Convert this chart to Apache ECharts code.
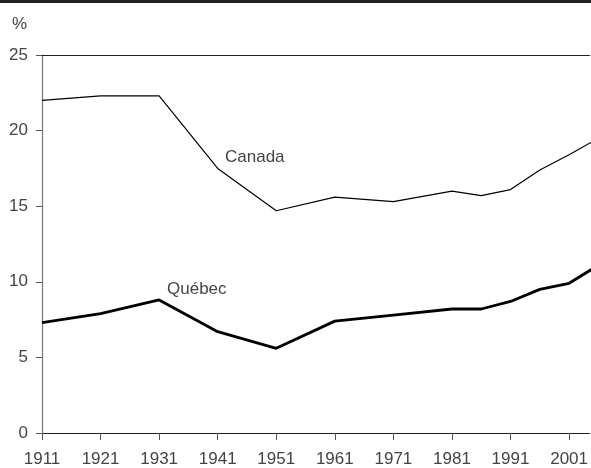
<!DOCTYPE html>
<html>
<head>
<meta charset="utf-8">
<script src="https://cdn.jsdelivr.net/npm/echarts@6/dist/echarts.min.js"></script>
<style>
  html, body { margin: 0; padding: 0; background: #fff; }
  #chart { width: 591px; height: 468px; }
</style>
</head>
<body>
<div id="chart"></div>
<script>
// census years and shares (%)
var years = [1911, 1921, 1931, 1941, 1951, 1961, 1971, 1981, 1986, 1991, 1996, 2001, 2006];
var canada = [22.0, 22.3, 22.3, 17.5, 14.7, 15.6, 15.3, 16.0, 15.7, 16.1, 17.4, 18.4, 19.5];
var quebec = [7.3, 7.9, 8.8, 6.7, 5.6, 7.4, 7.8, 8.2, 8.2, 8.7, 9.5, 9.9, 11.1];
var xTicks = [1911, 1921, 1931, 1941, 1951, 1961, 1971, 1981, 1991, 2001];

var font = 'Liberation Sans, Arial, sans-serif';
var textColor = '#444';

function pairs(xs, ys) {
  return xs.map(function (x, i) { return [x, ys[i]]; });
}

var chart = echarts.init(document.getElementById('chart'));

chart.setOption({
  animation: false,
  grid: { left: 42, right: 0, top: 55, bottom: 34, containLabel: false },
  xAxis: [{
    type: 'value',
    min: 1911,
    max: 2004.5,
    axisLine: { show: true, lineStyle: { color: '#222', width: 1.2 } },
    axisTick: { show: true, customValues: xTicks, length: 7, lineStyle: { color: '#555' } },
    axisLabel: {
      customValues: xTicks,
      formatter: function (v) { return String(v); },
      margin: 18,
      color: textColor,
      fontSize: 17,
      fontFamily: font
    },
    splitLine: { show: false }
  }, {
    type: 'value',
    position: 'top',
    min: 1911,
    max: 2004.5,
    axisLine: { show: true, lineStyle: { color: '#222', width: 1.2 } },
    axisTick: { show: false },
    axisLabel: { show: false },
    splitLine: { show: false }
  }],
  yAxis: {
    type: 'value',
    min: 0,
    max: 25,
    interval: 5,
    axisLine: { show: true, lineStyle: { color: '#777', width: 1.2 } },
    axisTick: { show: true, length: 6, lineStyle: { color: '#555' } },
    axisLabel: { margin: 14, color: textColor, fontSize: 17, fontFamily: font },
    splitLine: { show: false }
  },
  graphic: [
    { type: 'rect', left: 0, top: 0, shape: { width: 591, height: 3 }, style: { fill: '#222' } },
    { type: 'text', left: 12, top: 16, style: { text: '%', fill: textColor, font: '17px ' + font } },
    { type: 'text', left: 225, top: 149, style: { text: 'Canada', fill: textColor, font: '17px ' + font } },
    { type: 'text', left: 167, top: 281, style: { text: 'Québec', fill: textColor, font: '17px ' + font } }
  ],
  series: [{
    name: 'Canada',
    type: 'line',
    data: pairs(years, canada),
    symbol: 'none',
    clip: true,
    lineStyle: { color: '#000', width: 1.2 }
  }, {
    name: 'Québec',
    type: 'line',
    data: pairs(years, quebec),
    symbol: 'none',
    clip: true,
    lineStyle: { color: '#000', width: 2.8 }
  }]
});
</script>
</body>
</html>
